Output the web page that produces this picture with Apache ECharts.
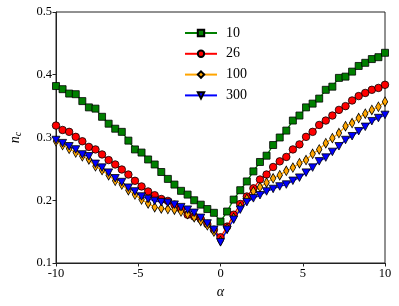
<!DOCTYPE html>
<html><head><meta charset="utf-8">
<script src="https://cdn.jsdelivr.net/npm/echarts@6/dist/echarts.min.js"></script>
<style>html,body{margin:0;padding:0;background:#fff}#c{width:399px;height:306px}</style>
</head><body><div id="c"></div>
<script>
const alpha = [-10,-9.6,-9.2,-8.8,-8.4,-8,-7.6,-7.2,-6.8,-6.4,-6,-5.6,-5.2,-4.8,-4.4,-4,-3.6,-3.2,-2.8,-2.4,-2,-1.6,-1.2,-0.8,-0.4,0,0.4,0.8,1.2,1.6,2,2.4,2.8,3.2,3.6,4,4.4,4.8,5.2,5.6,6,6.4,6.8,7.2,7.6,8,8.4,8.8,9.2,9.6,10];
const n10 = [0.382,0.377,0.370,0.369,0.358,0.348,0.346,0.333,0.322,0.314,0.309,0.295,0.281,0.276,0.265,0.257,0.245,0.234,0.225,0.215,0.209,0.200,0.193,0.186,0.180,0.166,0.182,0.201,0.216,0.230,0.246,0.261,0.271,0.288,0.300,0.311,0.327,0.335,0.348,0.354,0.362,0.376,0.381,0.395,0.397,0.405,0.414,0.419,0.425,0.428,0.435];
const n26 = [0.319,0.312,0.309,0.301,0.294,0.285,0.281,0.273,0.264,0.257,0.249,0.241,0.231,0.222,0.214,0.208,0.202,0.199,0.193,0.186,0.177,0.174,0.170,0.162,0.153,0.141,0.158,0.177,0.194,0.206,0.219,0.233,0.241,0.253,0.262,0.269,0.281,0.289,0.301,0.309,0.320,0.327,0.335,0.344,0.350,0.359,0.366,0.371,0.376,0.379,0.384];
const n100 = [0.294,0.288,0.282,0.276,0.270,0.265,0.254,0.248,0.240,0.231,0.225,0.216,0.209,0.201,0.195,0.189,0.187,0.186,0.185,0.182,0.178,0.173,0.167,0.160,0.150,0.135,0.155,0.172,0.189,0.202,0.214,0.221,0.228,0.235,0.240,0.247,0.252,0.259,0.264,0.274,0.281,0.291,0.299,0.307,0.318,0.323,0.331,0.338,0.344,0.349,0.357];
const n300 = [0.296,0.291,0.286,0.281,0.273,0.270,0.258,0.252,0.244,0.235,0.229,0.220,0.214,0.206,0.202,0.199,0.197,0.196,0.193,0.189,0.185,0.180,0.172,0.163,0.153,0.133,0.153,0.169,0.185,0.197,0.203,0.208,0.214,0.218,0.222,0.225,0.231,0.236,0.244,0.252,0.262,0.268,0.277,0.286,0.296,0.302,0.310,0.317,0.326,0.331,0.336];
const names = ['10','26','100','300'];
const xTicks = [-10,-5,0,5,10];
const yTicks = [0.1,0.2,0.3,0.4,0.5];

const font = 'Liberation Serif';
function mk(name, vals, color, symbol, size, rot) {
  return {
    name, type: 'line', data: alpha.map((a, i) => [a, vals[i]]),
    symbol, symbolSize: size, symbolRotate: rot || 0, showAllSymbol: true,
    lineStyle: { color, width: 1.3 },
    itemStyle: { color, borderColor: '#000', borderWidth: 0.8 },
    emphasis: { disabled: true }, animation: false
  };
}
const chart = echarts.init(document.getElementById('c'), null, { renderer: 'canvas' });
chart.setOption({
  animation: false,
  grid: { left: 49, right: 14, top: 12, bottom: 43, show: true, borderColor: '#222', borderWidth: 1, backgroundColor: 'transparent' },
  xAxis: {
    type: 'value', min: xTicks[0], max: xTicks[xTicks.length - 1], interval: 5,
    name: 'α', nameLocation: 'middle', nameGap: 21,
    nameTextStyle: { fontFamily: font, fontStyle: 'italic', fontSize: 14, color: '#000' },
    axisLine: { onZero: false, lineStyle: { color: '#222' } },
    axisTick: { show: true, length: 3.5, lineStyle: { color: '#222' } },
    axisLabel: { fontFamily: font, fontSize: 12.5, color: '#000', margin: 4 },
    splitLine: { show: false }
  },
  yAxis: {
    type: 'value', min: yTicks[0], max: yTicks[yTicks.length - 1], interval: 0.1,
    name: '{n|n}{c|c}', nameLocation: 'middle', nameGap: 33,
    nameTextStyle: { rich: { n: { fontFamily: font, fontStyle: 'italic', fontSize: 14, color: '#000' }, c: { fontFamily: font, fontStyle: 'italic', fontSize: 10, color: '#000', verticalAlign: 'bottom', padding: [6, 0, 0, 0] } } },
    axisLine: { show: true, onZero: false, lineStyle: { color: '#222' } },
    axisTick: { show: true, length: 3.5, lineStyle: { color: '#222' } },
    axisLabel: { fontFamily: font, fontSize: 12.5, color: '#000', margin: 4, formatter: v => v.toFixed(1) },
    splitLine: { show: false }
  },
  legend: {
    orient: 'vertical', left: 179, top: 21, itemWidth: 32, itemHeight: 8, itemGap: 6.8,
    textStyle: { fontFamily: font, fontSize: 14, color: '#000', padding: [0, 0, 0, 4] },
    data: names
  },
  series: [
    mk(names[0], n10, '#008000', 'rect', 7),
    mk(names[1], n26, '#ff0000', 'circle', 7.5),
    mk(names[2], n100, '#ffa500', 'diamond', [5.5, 9.5]),
    mk(names[3], n300, '#0000ff', 'triangle', [8, 7.5], 180)
  ]
});
</script></body></html>
